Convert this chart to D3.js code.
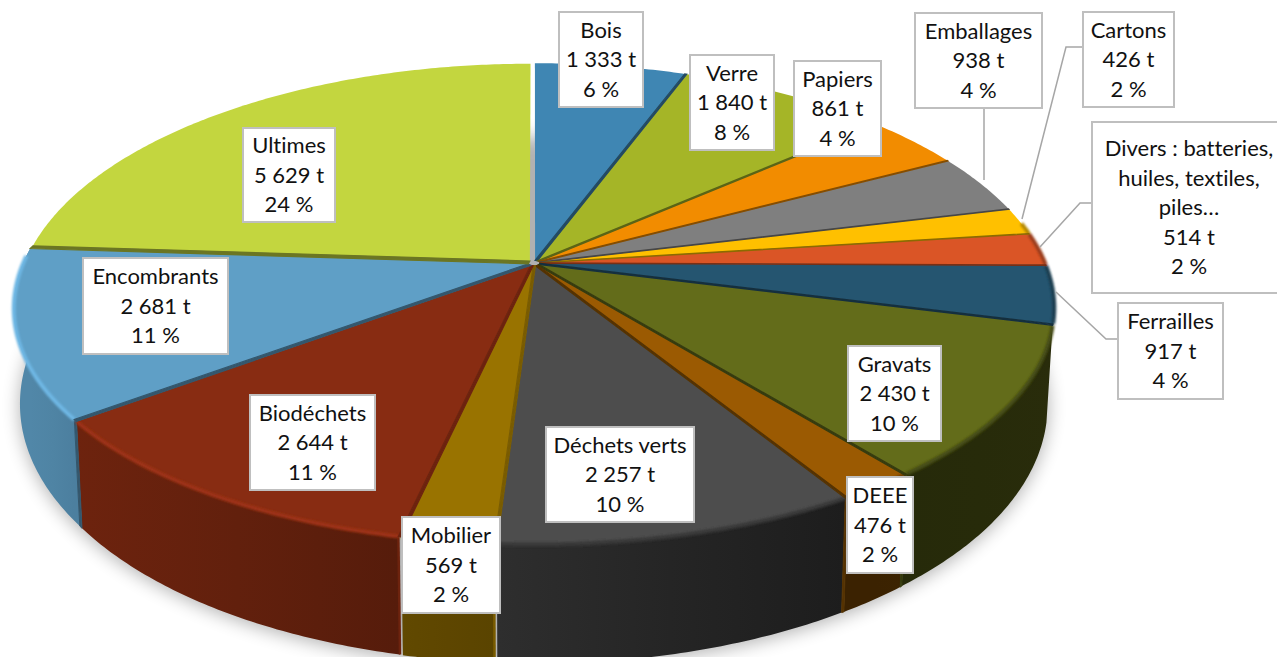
<!DOCTYPE html>
<html>
<head>
<meta charset="utf-8">
<style>
body { margin: 0; background: #fff; }
svg { display: block; }
text { font-family: Lato, "Open Sans", sans-serif; font-size: 22px; fill: #111; font-variant-ligatures: none; }
</style>
<script src="https://cdnjs.cloudflare.com/ajax/libs/d3/7.8.5/d3.min.js"></script>
</head>
<body>
<script>
var names = ["Bois", "Verre", "Papiers", "Emballages", "Cartons", "Divers : batteries,\nhuiles, textiles,\npiles…", "Ferrailles", "Gravats", "DEEE", "Déchets verts", "Mobilier", "Biodéchets", "Encombrants", "Ultimes"];
var tonnes = [1333, 1840, 861, 938, 426, 514, 917, 2430, 476, 2257, 569, 2644, 2681, 5629];
var colors = ["#3f86b3", "#a5b527", "#f28c00", "#7f7f7f", "#ffc000", "#da5526", "#255570", "#636c1a", "#9b5a02", "#4d4d4d", "#997300", "#882c12", "#5f9fc6", "#c3d63f"];

// label boxes: x, y, w, h
var labelBoxes = [
	[559, 12, 84, 95], [690, 55, 84, 95], [794, 61, 87, 95], [915, 13, 127, 95], [1083, 12, 91, 95],
	[1092, 122, 194, 171], [1118, 303, 105, 96], [848, 346, 93, 95], [847, 477, 66, 96],
	[546, 427, 148, 95], [402, 517, 98, 96], [250, 395, 125, 95], [83, 258, 145, 96], [243, 128, 92, 94]
];
var leaders = [
	[[984, 108], [984, 180]],
	[[1083, 47], [1066, 47], [1022, 219]],
	[[1092, 203], [1080, 203], [1040, 247]],
	[[1118, 339], [1106, 339], [1056, 292]]
];

var width = 1277, height = 657;
var kx = 0.185, ky = 0.168, explode = 0.012, rad = Math.PI / 180;

// the disc is seen in perspective, u/v are disc coords after the divide
var xTop = d3.scaleLinear().domain([-1, 1]).range([534 - 505, 534 + 505]);
var yTop = d3.scaleLinear().domain([-1, 1]).range([263 - 231, 263 + 231]);
var xBot = d3.scaleLinear().domain([-1, 1]).range([534 - 499, 534 + 499]);
var yBot = d3.scaleLinear().domain([-1, 1]).range([354 - 254, 354 + 254]);

var shade = d3.scaleLinear().domain([90, 150, 185, 232, 270]).range([0.42, 0.38, 0.6, 0.8, 0.85]).clamp(true);

function disc(a, r, mid) {
	var u = r * Math.sin(a) + explode * Math.sin(mid);
	var v = -r * Math.cos(a) - explode * Math.cos(mid);
	return [u / (1 - kx * v), v / (1 - ky * v)];
}
function topPt(a, r, mid) { var d = disc(a, r, mid); return [xTop(d[0]), yTop(d[1])]; }
function botPt(a, r, mid) { var d = disc(a, r, mid); return [xBot(d[0]), yBot(d[1])]; }
function angles(a0, a1) { return d3.range(a0, a1, 0.01).concat([a1]); }
function darker(c, f) { var o = d3.rgb(c); return d3.rgb(o.r * f, o.g * f, o.b * f).formatHex(); }
// the two boundaries nearest the viewer show a lighter side
function isFront(a) { return a > 180 * rad && a < 200 * rad; }
function sideColor(s, a) { return darker(s.color, isFront(a) ? 0.8 : 0.55); }

var line = d3.line();
var total = d3.sum(tonnes);
var fr = d3.formatLocale({decimal: ",", thousands: " ", grouping: [3], currency: ["", ""]}).format(",d");

var slices = d3.pie().sort(null).value(function (d) { return d; })(tonnes);
slices.forEach(function (s, i) {
	s.mid = (s.startAngle + s.endAngle) / 2;
	s.color = colors[i];
});

var svg = d3.select("body").append("svg")
	.attr("width", width)
	.attr("height", height);

var defs = svg.append("defs");
defs.append("filter").attr("id", "soft")
	.attr("x", "-20%").attr("y", "-20%").attr("width", "140%").attr("height", "140%")
	.append("feGaussianBlur").attr("stdDeviation", 9);
defs.append("filter").attr("id", "rim")
	.attr("filterUnits", "userSpaceOnUse")
	.attr("x", 0).attr("y", 0).attr("width", width).attr("height", height)
	.append("feGaussianBlur").attr("stdDeviation", 1.3);

// shadow under the pie
svg.append("path")
	.attr("d", line(angles(0, 2 * Math.PI).map(function (a) {
		var p = botPt(a, 1, a);
		return [p[0], p[1] + 3];
	})) + "Z")
	.attr("fill", "#000")
	.attr("opacity", 0.3)
	.attr("filter", "url(#soft)");

// walls, back to front. Slices on the far side never show one
var walls = svg.append("g");
slices.filter(function (s) { return s.mid / rad > 100 && s.mid / rad < 300; })
	.sort(function (a, b) { return Math.cos(b.mid) - Math.cos(a.mid); })
	.forEach(function (s, i) {
		var as = angles(s.startAngle, s.endAngle);
		var id = "wall-" + i;
		var g = defs.append("linearGradient")
			.attr("id", id)
			.attr("gradientUnits", "userSpaceOnUse")
			.attr("x1", topPt(s.startAngle, 1, s.mid)[0])
			.attr("x2", topPt(s.endAngle, 1, s.mid)[0])
			.attr("y1", 0)
			.attr("y2", 0);
		[0, 0.5, 1].forEach(function (t) {
			g.append("stop")
				.attr("offset", t)
				.attr("stop-color", darker(s.color, shade((s.startAngle + t * (s.endAngle - s.startAngle)) / rad)));
		});
		var rim = as.map(function (a) { return topPt(a, 1, s.mid); });
		var low = as.map(function (a) { return botPt(a, 1, s.mid); }).reverse();
		walls.append("path")
			.attr("d", line(rim.concat(low)) + "Z")
			.attr("fill", "url(#" + id + ")");
	});

// dark side going down the wall at a front boundary
slices.forEach(function (s, i) {
	var a = s.endAngle;
	if (i === slices.length - 1 || a < 120 * rad || a > 260 * rad) return;
	var next = slices[i + 1];
	var upper = a < Math.PI ? s : next;
	var c = sideColor(upper, a);
	if (isFront(a)) {
		// these two keep a thin gap at the bottom
		walls.append("path")
			.attr("d", line([topPt(a, 1, upper.mid), botPt(a, 1, upper.mid)]))
			.attr("stroke", c)
			.attr("stroke-width", 2.5)
			.attr("fill", "none");
	} else {
		walls.append("path")
			.attr("d", line([topPt(a, 1, s.mid), botPt(a, 1, s.mid), botPt(a, 1, next.mid), topPt(a, 1, next.mid)]) + "Z")
			.attr("fill", c)
			.attr("stroke", c)
			.attr("stroke-width", 1);
	}
});

// top faces
svg.append("g").selectAll("path")
	.data(slices)
	.enter().append("path")
	.attr("d", function (s) {
		var pts = angles(s.startAngle, s.endAngle).map(function (a) { return topPt(a, 1, s.mid); });
		return line([topPt(s.mid, 0, s.mid)].concat(pts)) + "Z";
	})
	.attr("fill", function (s) { return s.color; });

// soft bevel along the front rim
var rims = svg.append("g").attr("filter", "url(#rim)");
slices.forEach(function (s) {
	var a0 = Math.max(s.startAngle, 80 * rad), a1 = Math.min(s.endAngle, 272 * rad);
	if (a1 <= a0) return;
	var wall = darker(s.color, shade(s.mid / rad));
	rims.append("path")
		.attr("d", line(angles(a0, a1).map(function (a) { return topPt(a, 1, s.mid); })))
		.attr("fill", "none")
		.attr("stroke", s.mid > Math.PI ? d3.rgb(s.color).brighter(0.4).formatHex() : d3.interpolateRgb(s.color, wall)(0.5))
		.attr("stroke-width", 4);
});

// the exploded slices leave a dark side showing between neighbours
var sides = svg.append("g");
slices.forEach(function (s, i) {
	if (i === slices.length - 1) return;
	var a = s.endAngle, next = slices[i + 1];
	var upper = a < Math.PI ? s : next;
	var c = sideColor(upper, a);
	sides.append("path")
		.attr("d", line([
			topPt(s.mid, 0, s.mid), topPt(a, 1, s.mid),
			topPt(a, 1, next.mid), topPt(next.mid, 0, next.mid)
		]) + "Z")
		.attr("fill", c)
		.attr("stroke", c)
		.attr("stroke-width", 1.2);
});

// leader lines
svg.append("g").selectAll("path")
	.data(leaders)
	.enter().append("path")
	.attr("d", function (d) { return line(d); })
	.attr("fill", "none")
	.attr("stroke", "#a6a6a6")
	.attr("stroke-width", 1.5);

// labels
var labels = svg.append("g").selectAll("g")
	.data(names)
	.enter().append("g")
	.attr("transform", function (d, i) { return "translate(" + labelBoxes[i][0] + "," + labelBoxes[i][1] + ")"; });

labels.append("rect")
	.attr("width", function (d, i) { return labelBoxes[i][2]; })
	.attr("height", function (d, i) { return labelBoxes[i][3]; })
	.attr("fill", "#fff")
	.attr("stroke", "#bfbfbf")
	.attr("stroke-width", 2);

labels.each(function (d, i) {
	var rows = d.split("\n").concat([fr(tonnes[i]) + " t", Math.round(tonnes[i] / total * 100) + " %"]);
	var box = labelBoxes[i];
	d3.select(this).selectAll("text")
		.data(rows)
		.enter().append("text")
		.attr("x", box[2] / 2)
		.attr("y", function (r, j) { return box[3] / 2 + (j - (rows.length - 1) / 2) * 29.6; })
		.attr("dy", "0.35em")
		.attr("text-anchor", "middle")
		.text(function (r) { return r; });
});
</script>
</body>
</html>
